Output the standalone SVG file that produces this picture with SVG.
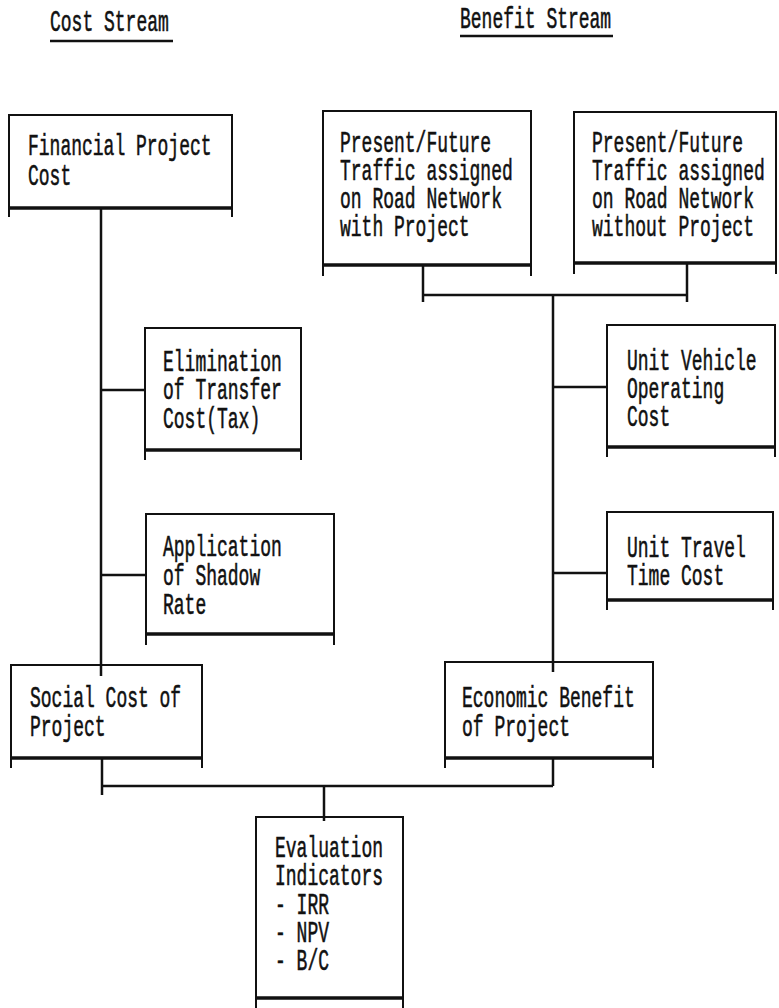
<svg xmlns="http://www.w3.org/2000/svg" width="779" height="1008" viewBox="0 0 779 1008">
<style>
  text { font-family: "Liberation Mono", "DejaVu Sans Mono", monospace; font-size: 18px; fill: #111; stroke: #111; stroke-width: 0.35; }
  .box { fill: none; stroke: #111; stroke-width: 2; }
  .base { stroke: #111; stroke-width: 3.5; }
  .leg { stroke: #111; stroke-width: 2; }
  .con { stroke: #111; stroke-width: 2.5; fill: none; }
  .ul { stroke: #111; stroke-width: 2.5; }
</style>
<rect x="0" y="0" width="779" height="1008" fill="#ffffff"/>

<g id="headers">
  <text transform="translate(50,31) scale(1,1.65)">Cost Stream</text>
  <line class="ul" x1="50" y1="41" x2="173" y2="41"/>
  <text transform="translate(460,28) scale(1,1.65)">Benefit Stream</text>
  <line class="ul" x1="460" y1="36" x2="613" y2="36"/>
</g>

<g id="connectors">
  <polyline class="con" points="101,208 101,676"/>
  <line class="con" x1="101" y1="390" x2="145" y2="390"/>
  <line class="con" x1="101" y1="575" x2="146" y2="575"/>
  <line class="con" x1="423" y1="265" x2="423" y2="302"/>
  <line class="con" x1="687" y1="263" x2="687" y2="302"/>
  <line class="con" x1="423" y1="295" x2="687" y2="295"/>
  <line class="con" x1="553" y1="295" x2="553" y2="672"/>
  <line class="con" x1="553" y1="387" x2="607" y2="387"/>
  <line class="con" x1="553" y1="573" x2="607" y2="573"/>
  <line class="con" x1="102" y1="758" x2="102" y2="795"/>
  <line class="con" x1="553" y1="758" x2="553" y2="786"/>
  <line class="con" x1="102" y1="786" x2="553" y2="786"/>
  <line class="con" x1="324" y1="786" x2="324" y2="821"/>
</g>

<g id="financial-project-cost">
  <polyline class="box" points="9,208 9,115 232,115 232,208"/>
  <line class="base" x1="9" y1="208" x2="232" y2="208"/>
  <line class="leg" x1="9" y1="208" x2="9" y2="217"/>
  <line class="leg" x1="232" y1="208" x2="232" y2="217"/>
  <text transform="translate(28,155) scale(1,1.65)"><tspan x="0" y="0">Financial Project</tspan><tspan x="0" y="18.18">Cost</tspan></text>
</g>

<g id="traffic-with-project">
  <polyline class="box" points="323,265 323,111 531,111 531,265"/>
  <line class="base" x1="323" y1="265" x2="531" y2="265"/>
  <line class="leg" x1="323" y1="265" x2="323" y2="276"/>
  <line class="leg" x1="531" y1="265" x2="531" y2="276"/>
  <text transform="translate(340,152) scale(1,1.65)"><tspan x="0" y="0">Present/Future</tspan><tspan x="0" y="16.97">Traffic assigned</tspan><tspan x="0" y="33.94">on Road Network</tspan><tspan x="0" y="50.91">with Project</tspan></text>
</g>

<g id="traffic-without-project">
  <polyline class="box" points="574,263 574,112 776,112 776,263"/>
  <line class="base" x1="574" y1="263" x2="776" y2="263"/>
  <line class="leg" x1="574" y1="263" x2="574" y2="274"/>
  <line class="leg" x1="776" y1="263" x2="776" y2="274"/>
  <text transform="translate(592,152) scale(1,1.65)"><tspan x="0" y="0">Present/Future</tspan><tspan x="0" y="16.97">Traffic assigned</tspan><tspan x="0" y="33.94">on Road Network</tspan><tspan x="0" y="50.91">without Project</tspan></text>
</g>

<g id="elimination-transfer-cost">
  <polyline class="box" points="145,450 145,328 301,328 301,450"/>
  <line class="base" x1="145" y1="450" x2="301" y2="450"/>
  <line class="leg" x1="145" y1="450" x2="145" y2="460"/>
  <line class="leg" x1="301" y1="450" x2="301" y2="460"/>
  <text transform="translate(163,371) scale(1,1.65)"><tspan x="0" y="0">Elimination</tspan><tspan x="0" y="16.97">of Transfer</tspan><tspan x="0" y="34.55">Cost(Tax)</tspan></text>
</g>

<g id="unit-vehicle-operating-cost">
  <polyline class="box" points="607,447 607,325 775,325 775,447"/>
  <line class="base" x1="607" y1="447" x2="775" y2="447"/>
  <line class="leg" x1="607" y1="447" x2="607" y2="457"/>
  <line class="leg" x1="775" y1="447" x2="775" y2="457"/>
  <text transform="translate(627,370) scale(1,1.65)"><tspan x="0" y="0">Unit Vehicle</tspan><tspan x="0" y="16.97">Operating</tspan><tspan x="0" y="33.94">Cost</tspan></text>
</g>

<g id="application-shadow-rate">
  <polyline class="box" points="146,634 146,514 334,514 334,634"/>
  <line class="base" x1="146" y1="634" x2="334" y2="634"/>
  <line class="leg" x1="146" y1="634" x2="146" y2="645"/>
  <line class="leg" x1="334" y1="634" x2="334" y2="645"/>
  <text transform="translate(163,556) scale(1,1.65)"><tspan x="0" y="0">Application</tspan><tspan x="0" y="17.58">of Shadow</tspan><tspan x="0" y="35.15">Rate</tspan></text>
</g>

<g id="unit-travel-time-cost">
  <polyline class="box" points="607,600 607,512 773,512 773,600"/>
  <line class="base" x1="607" y1="600" x2="773" y2="600"/>
  <line class="leg" x1="607" y1="600" x2="607" y2="610"/>
  <line class="leg" x1="773" y1="600" x2="773" y2="610"/>
  <text transform="translate(627,557) scale(1,1.65)"><tspan x="0" y="0">Unit Travel</tspan><tspan x="0" y="16.97">Time Cost</tspan></text>
</g>

<g id="social-cost-of-project">
  <polyline class="box" points="11,758 11,665 202,665 202,758"/>
  <line class="base" x1="11" y1="758" x2="202" y2="758"/>
  <line class="leg" x1="11" y1="758" x2="11" y2="768"/>
  <line class="leg" x1="202" y1="758" x2="202" y2="768"/>
  <text transform="translate(30,707) scale(1,1.65)"><tspan x="0" y="0">Social Cost of</tspan><tspan x="0" y="17.58">Project</tspan></text>
</g>

<g id="economic-benefit-of-project">
  <polyline class="box" points="445,758 445,662 653,662 653,758"/>
  <line class="base" x1="445" y1="758" x2="653" y2="758"/>
  <line class="leg" x1="445" y1="758" x2="445" y2="768"/>
  <line class="leg" x1="653" y1="758" x2="653" y2="768"/>
  <text transform="translate(462,707) scale(1,1.65)"><tspan x="0" y="0">Economic Benefit</tspan><tspan x="0" y="17.58">of Project</tspan></text>
</g>

<g id="evaluation-indicators">
  <polyline class="box" points="256,998 256,817 403,817 403,998"/>
  <line class="base" x1="256" y1="998" x2="403" y2="998"/>
  <line class="leg" x1="256" y1="998" x2="256" y2="1008"/>
  <line class="leg" x1="403" y1="998" x2="403" y2="1008"/>
  <text transform="translate(275,857) scale(1,1.65)"><tspan x="0" y="0">Evaluation</tspan><tspan x="0" y="16.97">Indicators</tspan><tspan x="0" y="34.55">- IRR</tspan><tspan x="0" y="51.52">- NPV</tspan><tspan x="0" y="68.48">- B/C</tspan></text>
</g>
</svg>
